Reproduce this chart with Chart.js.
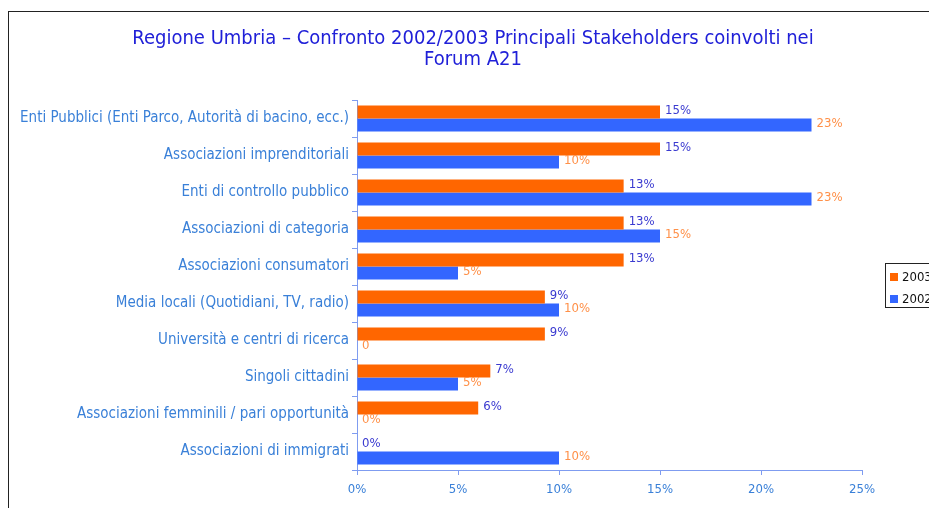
<!DOCTYPE html>
<html>
<head>
<meta charset="utf-8">
<script src="https://cdn.jsdelivr.net/npm/chart.js@4"></script>
<style>
  html, body { margin:0; padding:0; background:#fff; }
  #wrap { position:relative; width:929px; height:508px; overflow:hidden; }
  #frame { position:absolute; left:8px; top:11px; width:1000px; height:600px; border-left:1px solid #222; border-top:1px solid #222; }
  #title { position:absolute; left:73px; width:800px; top:27px; text-align:center; font-family:"DejaVu Sans Condensed","DejaVu Sans",sans-serif; font-size:20px; line-height:21px; color:#2020d8; }
  #legend { position:absolute; left:885px; top:263px; width:80px; height:43px; border:1px solid #222; font-family:"DejaVu Sans Condensed","DejaVu Sans",sans-serif; font-size:13px; color:#111; }
  #legend div { position:absolute; left:4px; height:14px; line-height:14px; white-space:nowrap; }
  #legend span { display:inline-block; width:8px; height:8px; margin-right:4px; vertical-align:0px; }
  canvas { position:absolute; left:0; top:0; }
</style>
</head>
<body>
<div id="wrap">
  <div id="frame"></div>
  <canvas id="c" width="929" height="508"></canvas>
  <div id="title">Regione Umbria – Confronto 2002/2003 Principali Stakeholders coinvolti nei<br>Forum A21</div>
  <div id="legend"></div>
</div>
<script>
const categories = [
  "Enti Pubblici (Enti Parco, Autorità di bacino, ecc.)",
  "Associazioni imprenditoriali",
  "Enti di controllo pubblico",
  "Associazioni di categoria",
  "Associazioni consumatori",
  "Media locali (Quotidiani, TV, radio)",
  "Università e centri di ricerca",
  "Singoli cittadini",
  "Associazioni femminili / pari opportunità",
  "Associazioni di immigrati"
];
const seriesNames = ["2003", "2002"];
const values2003 = [15.0, 15.0, 13.2, 13.2, 13.2, 9.3, 9.3, 6.6, 6.0, 0];
const values2002 = [22.5, 10.0, 22.5, 15.0, 5.0, 10.0, 0, 5.0, 0, 10.0];
const labels2003 = ["15%", "15%", "13%", "13%", "13%", "9%", "9%", "7%", "6%", "0%"];
const labels2002 = ["23%", "10%", "23%", "15%", "5%", "10%", "0", "5%", "0%", "10%"];
const xTicks = [0, 5, 10, 15, 20, 25];

const FONT = '"DejaVu Sans Condensed","DejaVu Sans",sans-serif';
const colors = ["#ff6600", "#3366ff"];
const labelColors = ["#3a3ad0", "#ff9048"];
const axisColor = "#7f9cf0";
const textBlue = "#3a80d8";

const valueLabels = {
  id: 'valueLabels',
  afterDatasetsDraw(chart) {
    const ctx = chart.ctx;
    const texts = [labels2003, labels2002];
    ctx.save();
    ctx.font = '13px ' + FONT;
    ctx.textAlign = 'left';
    ctx.textBaseline = 'middle';
    chart.data.datasets.forEach((ds, di) => {
      const meta = chart.getDatasetMeta(di);
      meta.data.forEach((el, i) => {
        ctx.fillStyle = labelColors[di];
        ctx.fillText(texts[di][i], el.x + 5, el.y - 1.5);
      });
    });
    ctx.restore();
  }
};

new Chart(document.getElementById('c'), {
  type: 'bar',
  data: {
    labels: categories,
    datasets: [
      { label: seriesNames[0], data: values2003, backgroundColor: colors[0], categoryPercentage: 0.7, barPercentage: 1.0 },
      { label: seriesNames[1], data: values2002, backgroundColor: colors[1], categoryPercentage: 0.7, barPercentage: 1.0 }
    ]
  },
  options: {
    indexAxis: 'y',
    responsive: false,
    animation: false,
    layout: { padding: { top: 100, right: 67, bottom: 0, left: 0 } },
    plugins: { legend: { display: false }, title: { display: false }, tooltip: { enabled: false } },
    scales: {
      y: {
        afterFit(scale) { scale.width = 357; },
        grid: { display: true, drawOnChartArea: false, drawTicks: true, tickLength: 5, color: axisColor, offset: true },
        border: { display: true, color: axisColor, width: 1 },
        ticks: { color: textBlue, font: { family: FONT, size: 15 }, padding: 3 }
      },
      x: {
        min: 0, max: 25,
        afterFit(scale) { scale.height = 38; },
        afterBuildTicks(scale) { scale.ticks = xTicks.map(v => ({ value: v })); },
        grid: { display: true, drawOnChartArea: false, drawTicks: true, tickLength: 5, color: axisColor },
        border: { display: true, color: axisColor, width: 1 },
        ticks: { color: textBlue, font: { family: FONT, size: 13 }, padding: 7, callback: v => v + '%' }
      }
    }
  },
  plugins: [valueLabels]
});

const lg = document.getElementById('legend');
seriesNames.forEach((n, i) => {
  const d = document.createElement('div');
  d.style.top = (i === 0 ? 6 : 28) + 'px';
  d.innerHTML = '<span style="background:' + colors[i] + '"></span>' + n;
  lg.appendChild(d);
});
</script>
</body>
</html>
